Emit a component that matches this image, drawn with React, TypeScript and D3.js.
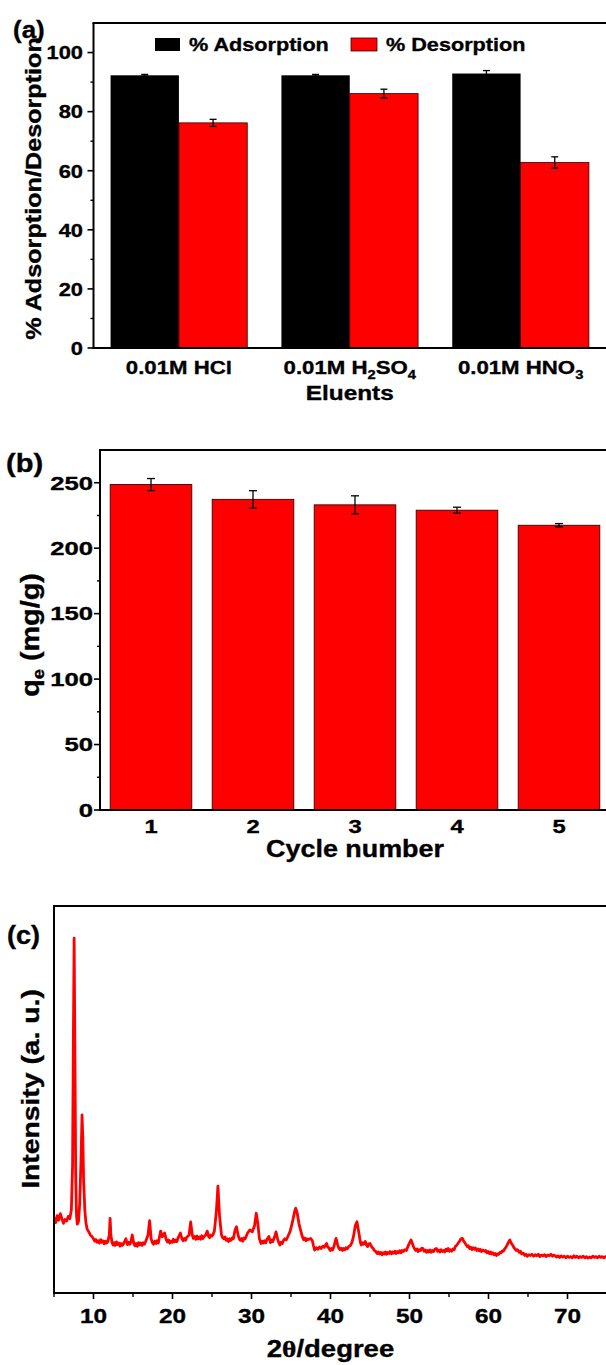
import React from "react";
import * as d3 from "d3";

// ---------- (a) adsorption / desorption per eluent ----------
const eluentLabels: [string, boolean][][] = [
  [["0.01M HCl", false]],
  [["0.01M H", false], ["2", true], ["SO", false], ["4", true]],
  [["0.01M HNO", false], ["3", true]],
];
const adsorption = [92.3, 92.3, 92.9];
const adsorptionErr = [0.3, 0.3, 1.0];
const desorption = [76.2, 86.1, 62.8];
const desorptionErr = [1.2, 1.5, 1.9];
const seriesNames = ["% Adsorption", "% Desorption"];

// ---------- (b) reusability cycles ----------
const cycles = [1, 2, 3, 4, 5];
const qe = [248.6, 237.3, 233.1, 229.0, 217.5];
const qeErr = [4.6, 6.6, 6.9, 2.3, 1.3];

// ---------- (c) XRD pattern: [2θ, intensity] ----------
const xrdPattern: [number, number][] = [
  [5.0, 195], [5.2, 182], [5.4, 200], [5.6, 188], [5.8, 205], [6.0, 192], [6.2, 180], [6.4, 190],
  [6.6, 186], [6.8, 198], [7.0, 192], [7.2, 215], [7.35, 330], [7.45, 650], [7.55, 917], [7.65, 620],
  [7.75, 300], [7.85, 200], [7.95, 178], [8.1, 185], [8.25, 230], [8.4, 330], [8.55, 460], [8.65, 400],
  [8.75, 290], [8.9, 215], [9.05, 180], [9.2, 165], [9.4, 158], [9.6, 150], [9.8, 146], [10.0, 140],
  [10.15, 134], [10.3, 138], [10.45, 131], [10.6, 135], [10.75, 129], [10.9, 138], [11.05, 131],
  [11.2, 135], [11.35, 127], [11.5, 134], [11.65, 129], [11.8, 132], [12.0, 150], [12.1, 193],
  [12.2, 150], [12.35, 130], [12.5, 124], [12.6, 130], [12.75, 123], [12.9, 132], [13.05, 125],
  [13.2, 129], [13.35, 121], [13.5, 128], [13.65, 123], [13.8, 127], [14.1, 140], [14.3, 125],
  [14.45, 131], [14.6, 126], [14.75, 133], [14.9, 150], [15.1, 128], [15.25, 122], [15.4, 128],
  [15.55, 121], [15.7, 130], [15.85, 124], [16.0, 129], [16.15, 123], [16.3, 130], [16.45, 126],
  [16.6, 133], [16.9, 150], [17.1, 187], [17.3, 140], [17.45, 130], [17.6, 126], [17.75, 134],
  [17.9, 128], [18.05, 135], [18.2, 129], [18.5, 160], [18.7, 145], [19.0, 155], [19.2, 138],
  [19.35, 132], [19.5, 137], [19.65, 129], [19.8, 134], [19.95, 131], [20.1, 139], [20.25, 132],
  [20.4, 137], [20.55, 133], [20.7, 142], [21.0, 155], [21.2, 140], [21.35, 135], [21.5, 141],
  [21.65, 136], [21.8, 144], [22.1, 150], [22.3, 184], [22.5, 150], [22.65, 141], [22.8, 146],
  [22.95, 139], [23.1, 147], [23.25, 140], [23.4, 145], [23.55, 139], [23.7, 148], [23.85, 141],
  [24.0, 146], [24.2, 150], [24.4, 160], [24.55, 147], [24.7, 143], [24.85, 150], [25.0, 147],
  [25.15, 152], [25.3, 160], [25.55, 210], [25.75, 276], [25.95, 200], [26.2, 150], [26.35, 143],
  [26.5, 140], [26.65, 145], [26.8, 136], [26.95, 140], [27.1, 133], [27.25, 140], [27.4, 136],
  [27.55, 142], [27.7, 140], [27.95, 165], [28.1, 171], [28.3, 150], [28.45, 140], [28.6, 136],
  [28.75, 141], [28.9, 134], [29.05, 142], [29.2, 140], [29.5, 155], [29.8, 163], [30.1, 158],
  [30.4, 175], [30.6, 206], [30.8, 180], [31.0, 140], [31.2, 128], [31.35, 134], [31.5, 129],
  [31.65, 135], [31.8, 130], [32.0, 140], [32.2, 146], [32.4, 130], [32.55, 137], [32.7, 133],
  [33.0, 150], [33.1, 158], [33.3, 140], [33.45, 130], [33.6, 124], [33.75, 131], [33.9, 128],
  [34.05, 136], [34.2, 140], [34.4, 137], [34.6, 146], [34.9, 160], [35.2, 185], [35.45, 210],
  [35.6, 219], [35.8, 205], [36.0, 180], [36.3, 155], [36.45, 145], [36.6, 138], [36.75, 142],
  [36.9, 135], [37.05, 140], [37.2, 138], [37.5, 141], [37.7, 135], [37.85, 122], [38.0, 111],
  [38.2, 117], [38.4, 113], [38.6, 119], [38.8, 115], [39.0, 121], [39.2, 118], [39.5, 128],
  [39.65, 119], [39.8, 116], [39.95, 110], [40.1, 115], [40.25, 111], [40.4, 118], [40.7, 141],
  [40.9, 125], [41.05, 116], [41.2, 112], [41.35, 116], [41.5, 110], [41.65, 115], [41.8, 112],
  [41.95, 117], [42.1, 114], [42.3, 120], [42.5, 122], [42.7, 130], [42.9, 145], [43.15, 175],
  [43.35, 184], [43.55, 160], [43.8, 130], [43.9, 124], [44.05, 130], [44.2, 126], [44.4, 133],
  [44.55, 124], [44.7, 120], [44.85, 127], [45.0, 128], [45.1, 124], [45.25, 118], [45.4, 115],
  [45.55, 110], [45.7, 108], [45.9, 102], [46.05, 106], [46.2, 101], [46.35, 105], [46.5, 99],
  [46.65, 104], [46.8, 101], [46.95, 106], [47.1, 100], [47.25, 105], [47.4, 102], [47.55, 107],
  [47.7, 101], [47.85, 106], [48.0, 103], [48.15, 108], [48.3, 102], [48.45, 107], [48.6, 104],
  [48.75, 109], [48.9, 104], [49.05, 110], [49.2, 107], [49.4, 112], [49.6, 110], [49.9, 125],
  [50.2, 137], [50.5, 120], [50.65, 114], [50.8, 110], [50.95, 114], [51.1, 107], [51.25, 112],
  [51.4, 110], [51.55, 116], [51.7, 115], [51.85, 108], [52.0, 111], [52.15, 105], [52.3, 110],
  [52.45, 106], [52.6, 111], [52.75, 105], [52.9, 110], [53.05, 107], [53.2, 113], [53.4, 115],
  [53.55, 108], [53.7, 111], [53.85, 106], [54.0, 112], [54.15, 107], [54.3, 110], [54.45, 106],
  [54.6, 113], [54.75, 109], [54.9, 115], [55.05, 108], [55.2, 112], [55.35, 108], [55.5, 114],
  [55.65, 112], [55.8, 120], [56.0, 124], [56.2, 130], [56.35, 134], [56.5, 140], [56.7, 141],
  [56.85, 134], [57.0, 130], [57.15, 125], [57.3, 120], [57.45, 122], [57.6, 115], [57.75, 118],
  [57.9, 112], [58.05, 117], [58.2, 113], [58.35, 116], [58.5, 110], [58.65, 114], [58.8, 109],
  [58.95, 113], [59.1, 107], [59.3, 111], [59.5, 108], [59.65, 110], [59.8, 104], [59.95, 107],
  [60.1, 102], [60.25, 106], [60.4, 101], [60.55, 104], [60.7, 99], [60.85, 102], [61.0, 97],
  [61.15, 101], [61.3, 100], [61.45, 105], [61.6, 104], [61.75, 109], [61.9, 108], [62.05, 114],
  [62.2, 118], [62.35, 124], [62.5, 130], [62.7, 137], [62.9, 128], [63.05, 124], [63.2, 118],
  [63.35, 114], [63.5, 110], [63.65, 112], [63.9, 105], [64.05, 108], [64.2, 101], [64.4, 103],
  [64.6, 97], [64.75, 100], [64.9, 95], [65.1, 99], [65.3, 97], [65.5, 100], [65.7, 95],
  [65.9, 99], [66.1, 96], [66.3, 100], [66.5, 94], [66.7, 98], [66.9, 96], [67.1, 99], [67.3, 94],
  [67.5, 98], [67.7, 96], [67.9, 100], [68.1, 95], [68.25, 98], [68.4, 97], [68.6, 93],
  [68.8, 96], [69.0, 92], [69.2, 96], [69.4, 93], [69.6, 95], [69.8, 91], [70.0, 95], [70.2, 92],
  [70.4, 94], [70.6, 91], [70.8, 96], [71.0, 92], [71.2, 95], [71.4, 91], [71.6, 94], [71.8, 92],
  [72.0, 95], [72.2, 91], [72.4, 94], [72.6, 90], [72.8, 93], [73.0, 91], [73.2, 95], [73.4, 92],
  [73.6, 94], [73.8, 91], [74.0, 95], [74.2, 92], [74.4, 94], [74.6, 91], [74.8, 94], [75.0, 93],
];

const FONT = "'Liberation Sans', Arial, Helvetica, sans-serif";
const RED = "#ff0000";
const AXIS_W = 2;

type TProps = {
  x: number;
  y: number;
  fs: number;
  sx?: number;
  anchor?: "start" | "middle" | "end";
  rotate?: boolean;
  dy?: string;
  children: React.ReactNode;
};

// Bold label, widened along its writing direction.
function Label({ x, y, fs, sx = 1.17, anchor = "middle", rotate = false, dy, children }: TProps) {
  const tf = `translate(${x},${y})${rotate ? " rotate(-90)" : ""} scale(${sx},1)`;
  return (
    <text
      transform={tf}
      fontSize={fs}
      fontFamily={FONT}
      fontWeight="bold"
      textAnchor={anchor}
      dy={dy}
      fill="#000"
      stroke="#000"
      strokeWidth={0.35}
    >
      {children}
    </text>
  );
}

function segments(parts: [string, boolean][], fs: number) {
  const shift = fs * 0.28;
  let offset = 0;
  return parts.map(([s, sub], i) => {
    const target = sub ? shift : 0;
    const d = target - offset;
    offset = target;
    return (
      <tspan key={i} dy={d} fontSize={sub ? fs * 0.66 : fs}>
        {s}
      </tspan>
    );
  });
}

function ErrorBar({ x, y0, y1, cap }: { x: number; y0: number; y1: number; cap: number }) {
  return (
    <g stroke="#000" strokeWidth={1.3}>
      <line x1={x} x2={x} y1={y0} y2={y1} />
      <line x1={x - cap / 2} x2={x + cap / 2} y1={y0} y2={y0} />
      <line x1={x - cap / 2} x2={x + cap / 2} y1={y1} y2={y1} />
    </g>
  );
}

function PanelA() {
  const x = d3.scaleLinear().domain([0.5, 3.5]).range([93.5, 606]);
  const y = d3.scaleLinear().domain([0, 110]).range([348, 23]);
  const bw = 0.4;
  const [x0] = x.range();
  const [yb, yt] = y.range();
  const major = y.ticks(5);
  const minor = d3.range(10, 110, 20);
  const fs = 19;
  return (
    <g>
      {eluentLabels.map((_, i) => {
        const c = i + 1;
        return (
          <g key={i}>
            <rect x={x(c - bw)} y={y(adsorption[i])} width={x(c) - x(c - bw)} height={yb - y(adsorption[i])} fill="#000" />
            <rect
              x={x(c)}
              y={y(desorption[i])}
              width={x(c + bw) - x(c)}
              height={yb - y(desorption[i])}
              fill={RED}
              stroke="#3a0000"
              strokeWidth={0.8}
            />
            <ErrorBar x={x(c - bw / 2)} y0={y(adsorption[i] + adsorptionErr[i])} y1={y(adsorption[i] - adsorptionErr[i])} cap={7} />
            <ErrorBar x={x(c + bw / 2)} y0={y(desorption[i] + desorptionErr[i])} y1={y(desorption[i] - desorptionErr[i])} cap={7} />
            <Label x={x(c)} y={374} fs={fs}>
              {segments(eluentLabels[i], fs)}
            </Label>
          </g>
        );
      })}
      {/* frame */}
      <line x1={x0} x2={x0} y1={yt} y2={yb} stroke="#000" strokeWidth={AXIS_W} />
      <line x1={x0 - 1} x2={606} y1={yb} y2={yb} stroke="#000" strokeWidth={AXIS_W} />
      <line x1={x0 - 1} x2={606} y1={yt} y2={yt} stroke="#000" strokeWidth={AXIS_W} />
      {major.map((t) => (
        <g key={t}>
          <line x1={x0 - 6} x2={x0} y1={y(t)} y2={y(t)} stroke="#000" strokeWidth={1.6} />
          <Label x={83} y={y(t)} fs={fs} sx={1.15} anchor="end" dy="0.36em">
            {t}
          </Label>
        </g>
      ))}
      {minor.map((t) => (
        <line key={t} x1={x0 - 3} x2={x0} y1={y(t)} y2={y(t)} stroke="#000" strokeWidth={1.4} />
      ))}
      {/* legend */}
      <rect x={155} y={38} width={25} height={13} fill="#000" />
      <Label x={189} y={51} fs={18.5} anchor="start">
        {seriesNames[0]}
      </Label>
      <rect x={351} y={38} width={26} height={13} fill={RED} stroke="#3a0000" strokeWidth={0.8} />
      <Label x={386} y={51} fs={18.5} anchor="start">
        {seriesNames[1]}
      </Label>
      <Label x={x(2)} y={400} fs={19.5} sx={1.25}>
        Eluents
      </Label>
      <Label x={41} y={y(54)} fs={22.5} sx={1.12} rotate>
        % Adsorption/Desorption
      </Label>
      <Label x={13} y={38} fs={24} sx={1.08} anchor="start">
        (a)
      </Label>
    </g>
  );
}

function PanelB() {
  const x = d3.scaleLinear().domain([0.5, 5.5]).range([100, 610]);
  const y = d3.scaleLinear().domain([0, 275]).range([810, 450]);
  const bw = 0.8;
  const [x0] = x.range();
  const [yb, yt] = y.range();
  const major = y.ticks(6);
  const minor = d3.range(25, 275, 50);
  return (
    <g>
      {cycles.map((c, i) => (
        <g key={c}>
          <rect
            x={x(c - bw / 2)}
            y={y(qe[i])}
            width={x(c + bw / 2) - x(c - bw / 2)}
            height={yb - y(qe[i])}
            fill={RED}
            stroke="#3a0000"
            strokeWidth={0.9}
          />
          <ErrorBar x={x(c)} y0={y(qe[i] + qeErr[i])} y1={y(qe[i] - qeErr[i])} cap={8} />
          <Label x={x(c)} y={833} fs={19} sx={1.25}>
            {c}
          </Label>
        </g>
      ))}
      <line x1={x0} x2={x0} y1={yt} y2={yb} stroke="#000" strokeWidth={AXIS_W} />
      <line x1={x0 - 1} x2={606} y1={yb} y2={yb} stroke="#000" strokeWidth={AXIS_W} />
      <line x1={x0 - 1} x2={606} y1={yt} y2={yt} stroke="#000" strokeWidth={AXIS_W} />
      {major.map((t) => (
        <g key={t}>
          <line x1={x0 - 6} x2={x0} y1={y(t)} y2={y(t)} stroke="#000" strokeWidth={1.6} />
          <Label x={93} y={y(t)} fs={19} sx={1.35} anchor="end" dy="0.36em">
            {t}
          </Label>
        </g>
      ))}
      {minor.map((t) => (
        <line key={t} x1={x0 - 3} x2={x0} y1={y(t)} y2={y(t)} stroke="#000" strokeWidth={1.4} />
      ))}
      <Label x={x(3)} y={857} fs={23} sx={1.17}>
        Cycle number
      </Label>
      <Label x={39} y={635} fs={25} sx={1.15} rotate>
        <tspan>q</tspan>
        <tspan fontSize={16} dy={5}>e</tspan>
        <tspan dy={-5}> (mg/g)</tspan>
      </Label>
      <Label x={6} y={472} fs={26} sx={1.12} anchor="start">
        (b)
      </Label>
    </g>
  );
}

function PanelC() {
  const x = d3.scaleLinear().domain([5, 75]).range([54, 607]);
  const y = d3.scaleLinear().domain([0, 1000]).range([1293, 906]);
  const [x0] = x.range();
  const [yb, yt] = y.range();
  const line = d3
    .line<[number, number]>()
    .x((d) => x(d[0]))
    .y((d) => y(d[1]));
  const major = d3.range(10, 71, 10);
  const minor = d3.range(5, 76, 10);
  return (
    <g>
      <defs>
        <clipPath id="xrd-clip">
          <rect x={x0} y={yt} width={606 - x0} height={yb - yt} />
        </clipPath>
      </defs>
      <path
        d={line(xrdPattern) || ""}
        fill="none"
        stroke={RED}
        strokeWidth={2.8}
        strokeLinejoin="round"
        clipPath="url(#xrd-clip)"
      />
      <line x1={x0} x2={x0} y1={yt} y2={yb} stroke="#000" strokeWidth={AXIS_W} />
      <line x1={x0 - 1} x2={606} y1={yb} y2={yb} stroke="#000" strokeWidth={AXIS_W} />
      <line x1={x0 - 1} x2={606} y1={yt} y2={yt} stroke="#000" strokeWidth={AXIS_W} />
      {major.map((t) => (
        <g key={t}>
          <line x1={x(t)} x2={x(t)} y1={yb} y2={yb + 6} stroke="#000" strokeWidth={1.6} />
          <Label x={x(t)} y={1323} fs={21} sx={1.16}>
            {t}
          </Label>
        </g>
      ))}
      {minor.map((t) => (
        <line key={t} x1={x(t)} x2={x(t)} y1={yb} y2={yb + 4} stroke="#000" strokeWidth={1.4} />
      ))}
      <Label x={x(40)} y={1357} fs={23.5} sx={1.17}>
        <tspan>2</tspan>
        <tspan fontFamily="'Liberation Serif', 'Times New Roman', serif">θ</tspan>
        <tspan>/degree</tspan>
      </Label>
      <Label x={39} y={1089} fs={24} sx={1.18} rotate>
        Intensity (a. u.)
      </Label>
      <Label x={7} y={944} fs={25} sx={1.08} anchor="start">
        (c)
      </Label>
    </g>
  );
}

export default function App() {
  return (
    <svg
      width={606}
      height={1365}
      viewBox="0 0 606 1365"
      style={{ position: "absolute", left: 0, top: 0, display: "block", background: "#fff" }}
    >
      <rect width={606} height={1365} fill="#fff" />
      <PanelA />
      <PanelB />
      <PanelC />
    </svg>
  );
}
